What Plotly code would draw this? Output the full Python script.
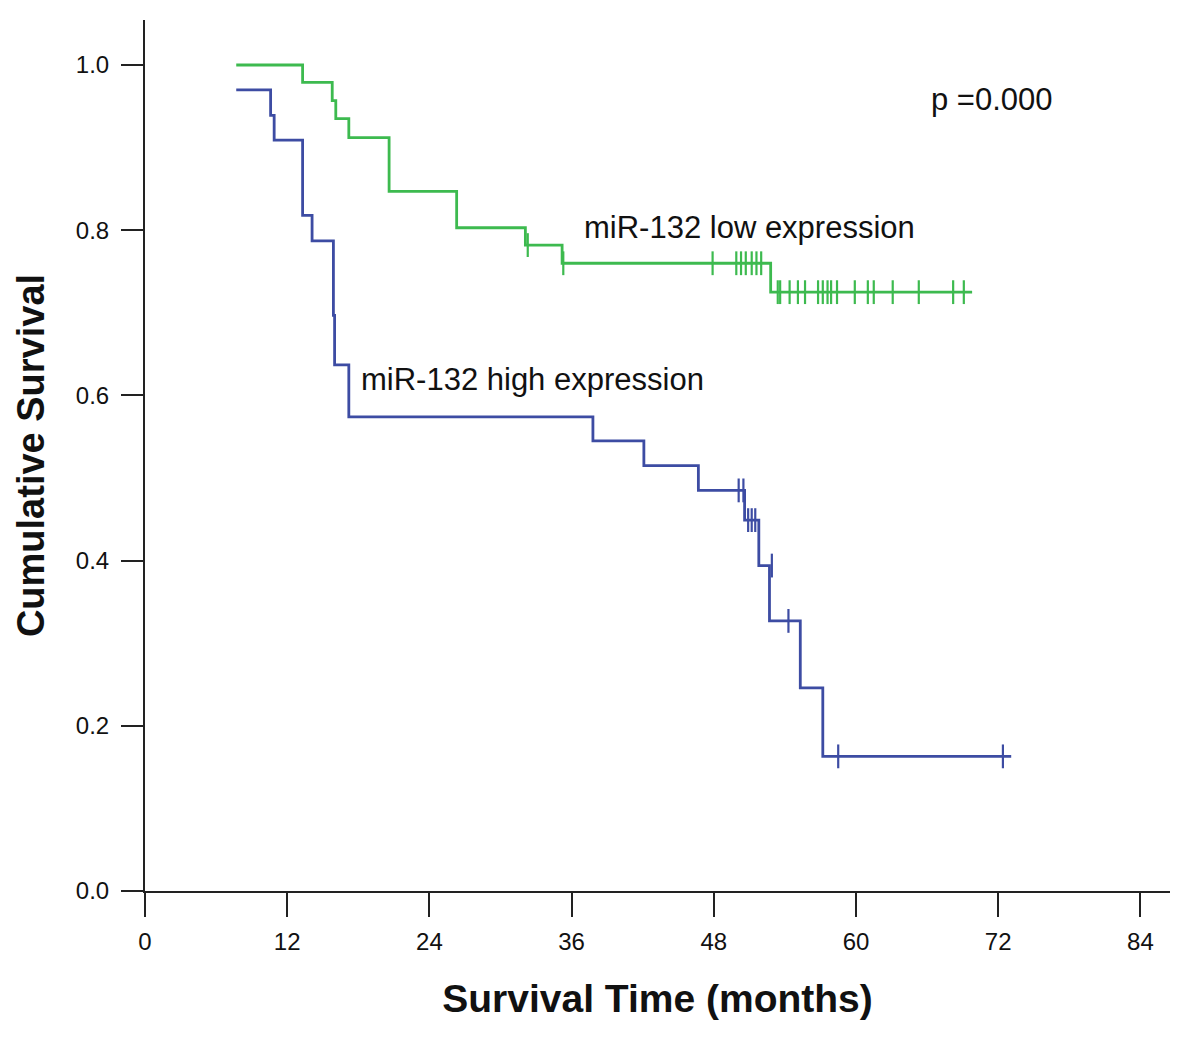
import plotly.graph_objects as go

# Kaplan-Meier steps (months, cumulative survival)
low_time = [7.7, 13.3, 15.8, 16.1, 17.2, 20.6, 26.3, 32.1, 35.2, 52.8, 69.8]
low_surv = [1.0, 0.979, 0.957, 0.935, 0.912, 0.847, 0.803, 0.782, 0.760, 0.725, 0.725]

high_time = [7.7, 10.6, 10.9, 13.3, 14.1, 15.9, 16.0, 17.2, 37.8, 42.1, 46.7,
             50.6, 51.8, 52.7, 55.3, 57.2, 73.1]
high_surv = [0.970, 0.939, 0.909, 0.818, 0.787, 0.697, 0.637, 0.574, 0.545, 0.515, 0.485,
             0.449, 0.394, 0.327, 0.246, 0.163, 0.163]

# censored cases
low_cens_time = [32.3, 35.3, 47.9, 49.9, 50.3, 50.7, 51.2, 51.6, 52.0,
                 53.4, 53.6, 54.4, 55.1, 55.7, 56.8, 57.2, 57.6, 57.9, 58.4,
                 59.9, 61.0, 61.5, 63.1, 65.3, 68.2, 69.1]
low_cens_surv = [0.782, 0.760, 0.760, 0.760, 0.760, 0.760, 0.760, 0.760, 0.760,
                 0.725, 0.725, 0.725, 0.725, 0.725, 0.725, 0.725, 0.725, 0.725, 0.725,
                 0.725, 0.725, 0.725, 0.725, 0.725, 0.725, 0.725]

high_cens_time = [50.1, 50.5, 50.9, 51.2, 51.5, 52.9, 54.3, 58.5, 72.4]
high_cens_surv = [0.485, 0.485, 0.449, 0.449, 0.449, 0.394, 0.327, 0.163, 0.163]

x_ticks = [0, 12, 24, 36, 48, 60, 72, 84]
y_ticks = [0.0, 0.2, 0.4, 0.6, 0.8, 1.0]

green = "#3dba4f"
blue = "#3d4ca3"

fig = go.Figure()
fig.add_trace(go.Scatter(x=low_time, y=low_surv, mode="lines", line_shape="hv",
                         line=dict(color=green, width=2.8), showlegend=False))
fig.add_trace(go.Scatter(x=high_time, y=high_surv, mode="lines", line_shape="hv",
                         line=dict(color=blue, width=2.8), showlegend=False))
fig.add_trace(go.Scatter(x=low_cens_time, y=low_cens_surv, mode="markers",
                         marker=dict(symbol="line-ns-open", size=17, color=green,
                                     line=dict(color=green, width=2.2)),
                         showlegend=False))
fig.add_trace(go.Scatter(x=high_cens_time, y=high_cens_surv, mode="markers",
                         marker=dict(symbol="line-ns-open", size=17, color=blue,
                                     line=dict(color=blue, width=2.2)),
                         showlegend=False))

txt = dict(family="Liberation Sans, Arial", size=31, color="#111111")
fig.add_annotation(x=36.9, y=0.803, text="miR-132 low expression", showarrow=False,
                   xanchor="left", yanchor="middle", font=txt)
fig.add_annotation(x=18.1, y=0.619, text="miR-132 high expression", showarrow=False,
                   xanchor="left", yanchor="middle", font=txt)
fig.add_annotation(x=66.2, y=0.958, text="p =0.000", showarrow=False,
                   xanchor="left", yanchor="middle", font=txt)

# page body has an 8px margin, so the plot box is shifted back by that much
fig.update_layout(
    width=1200, height=1038,
    margin=dict(l=137, r=38, t=12, b=155),
    plot_bgcolor="white", paper_bgcolor="white",
    font=dict(family="Liberation Sans, Arial", color="#111111"),
)
fig.update_xaxes(
    range=[0, 86.5], tickvals=x_ticks, ticktext=[str(v) for v in x_ticks],
    showgrid=False, zeroline=False, showline=True, linecolor="#222222", linewidth=2,
    ticks="outside", ticklen=24, tickwidth=2, tickcolor="#222222",
    tickfont=dict(family="Liberation Sans, Arial", size=24),
    ticklabelstandoff=4, automargin=False,
    title=dict(text="<b>Survival Time (months)</b>", standoff=31,
               font=dict(family="Liberation Sans, Arial", size=39)),
)
fig.update_yaxes(
    range=[0, 1.0545], tickvals=y_ticks, ticktext=[f"{v:.1f}" for v in y_ticks],
    showgrid=False, zeroline=False, showline=True, linecolor="#222222", linewidth=2,
    ticks="outside", ticklen=22, tickwidth=2, tickcolor="#222222",
    tickfont=dict(family="Liberation Sans, Arial", size=24),
    ticklabelstandoff=7, automargin=False,
    title=dict(text="<b>Cumulative Survival</b>", standoff=20,
               font=dict(family="Liberation Sans, Arial", size=38)),
)

fig.write_html("out.html")
